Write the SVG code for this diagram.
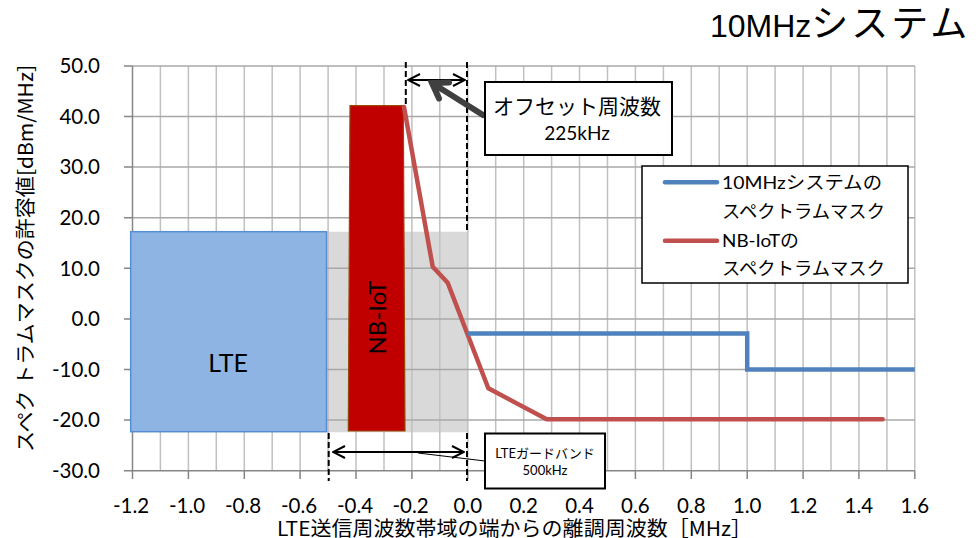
<svg xmlns="http://www.w3.org/2000/svg" width="979" height="538" viewBox="0 0 979 538">
<style>
.lat{font-family:Lato,"Noto Sans CJK JP",sans-serif;fill:#000}
.jp{font-family:"Noto Sans CJK JP",sans-serif;fill:#000}
.gv{stroke:#c0c0c0;stroke-width:1.5}
.gh{stroke:#a8a8a8;stroke-width:1.5}
.ax{stroke:#868686;stroke-width:1.5;fill:none}
.dash{stroke:#000;stroke-width:2;stroke-dasharray:6 3;fill:none}
.dbl{stroke:#000;stroke-width:2;fill:none;marker-start:url(#v);marker-end:url(#v)}
.box{fill:#fff;stroke:#000;stroke-width:2}
.yt{font-size:20.5px;text-anchor:end}
.xt{font-size:20.5px;text-anchor:middle}
</style>
<defs>
<marker id="v" viewBox="0 0 14 14" refX="13" refY="7" markerWidth="14" markerHeight="14" markerUnits="userSpaceOnUse" orient="auto-start-reverse">
<path d="M1,1 L13,7 L1,13" fill="none" stroke="#000" stroke-width="2"/>
</marker>
</defs>
<rect width="979" height="538" fill="#fff"/>

<g id="guard-band-area">
<rect x="327" y="231.7" width="140.8" height="200.6" fill="#d9d9d9"/>
</g>

<g id="grid">
<g class="gv">
<line x1="160.4" y1="65.9" x2="160.4" y2="470.7"/>
<line x1="188.4" y1="65.9" x2="188.4" y2="470.7"/>
<line x1="216.3" y1="65.9" x2="216.3" y2="470.7"/>
<line x1="244.3" y1="65.9" x2="244.3" y2="470.7"/>
<line x1="272.2" y1="65.9" x2="272.2" y2="470.7"/>
<line x1="300.1" y1="65.9" x2="300.1" y2="470.7"/>
<line x1="328.1" y1="65.9" x2="328.1" y2="470.7"/>
<line x1="356.0" y1="65.9" x2="356.0" y2="470.7"/>
<line x1="384.0" y1="65.9" x2="384.0" y2="470.7"/>
<line x1="411.9" y1="65.9" x2="411.9" y2="470.7"/>
<line x1="439.8" y1="65.9" x2="439.8" y2="470.7"/>
<line x1="467.8" y1="65.9" x2="467.8" y2="470.7"/>
<line x1="495.7" y1="65.9" x2="495.7" y2="470.7"/>
<line x1="523.7" y1="65.9" x2="523.7" y2="470.7"/>
<line x1="551.6" y1="65.9" x2="551.6" y2="470.7"/>
<line x1="579.5" y1="65.9" x2="579.5" y2="470.7"/>
<line x1="607.5" y1="65.9" x2="607.5" y2="470.7"/>
<line x1="635.4" y1="65.9" x2="635.4" y2="470.7"/>
<line x1="663.4" y1="65.9" x2="663.4" y2="470.7"/>
<line x1="691.3" y1="65.9" x2="691.3" y2="470.7"/>
<line x1="719.2" y1="65.9" x2="719.2" y2="470.7"/>
<line x1="747.2" y1="65.9" x2="747.2" y2="470.7"/>
<line x1="775.1" y1="65.9" x2="775.1" y2="470.7"/>
<line x1="803.1" y1="65.9" x2="803.1" y2="470.7"/>
<line x1="831.0" y1="65.9" x2="831.0" y2="470.7"/>
<line x1="858.9" y1="65.9" x2="858.9" y2="470.7"/>
<line x1="886.9" y1="65.9" x2="886.9" y2="470.7"/>
<line x1="914.8" y1="65.9" x2="914.8" y2="470.7"/>
</g>
<g class="gh">
<line x1="132.5" y1="65.9" x2="914.8" y2="65.9"/>
<line x1="132.5" y1="116.5" x2="914.8" y2="116.5"/>
<line x1="132.5" y1="167.1" x2="914.8" y2="167.1"/>
<line x1="132.5" y1="217.7" x2="914.8" y2="217.7"/>
<line x1="132.5" y1="268.3" x2="914.8" y2="268.3"/>
<line x1="132.5" y1="318.9" x2="914.8" y2="318.9"/>
<line x1="132.5" y1="369.5" x2="914.8" y2="369.5"/>
<line x1="132.5" y1="420.1" x2="914.8" y2="420.1"/>
</g>
<path class="ax" d="M132.5,65.9 V470.7 H914.8"/>
<path class="ax" d="M124,65.9 H132.5 M124,116.5 H132.5 M124,167.1 H132.5 M124,217.7 H132.5 M124,268.3 H132.5 M124,318.9 H132.5 M124,369.5 H132.5 M124,420.1 H132.5 M124,470.7 H132.5"/>
<path class="ax" d="M132.5,470.7 V479 M188.4,470.7 V479 M244.3,470.7 V479 M300.1,470.7 V479 M356,470.7 V479 M411.9,470.7 V479 M467.8,470.7 V479 M523.7,470.7 V479 M579.5,470.7 V479 M635.4,470.7 V479 M691.3,470.7 V479 M747.2,470.7 V479 M803.1,470.7 V479 M858.9,470.7 V479 M914.8,470.7 V479"/>
</g>

<g id="y-ticks" class="lat yt">
<text x="100" y="73.2">50.0</text>
<text x="100" y="123.8">40.0</text>
<text x="100" y="174.4">30.0</text>
<text x="100" y="225">20.0</text>
<text x="100" y="275.6">10.0</text>
<text x="100" y="326.2">0.0</text>
<text x="100" y="376.8">-10.0</text>
<text x="100" y="427.4">-20.0</text>
<text x="100" y="478">-30.0</text>
</g>
<g id="x-ticks" class="lat xt">
<text x="131" y="513">-1.2</text>
<text x="187" y="513">-1.0</text>
<text x="243" y="513">-0.8</text>
<text x="299" y="513">-0.6</text>
<text x="355" y="513">-0.4</text>
<text x="410.5" y="513">-0.2</text>
<text x="467.8" y="513">0.0</text>
<text x="523.7" y="513">0.2</text>
<text x="579.5" y="513">0.4</text>
<text x="635.4" y="513">0.6</text>
<text x="691.3" y="513">0.8</text>
<text x="747.2" y="513">1.0</text>
<text x="803.1" y="513">1.2</text>
<text x="858.9" y="513">1.4</text>
<text x="914.8" y="513">1.6</text>
</g>
<text id="x-axis-title" class="jp" x="277" y="536" font-size="20.5" textLength="475" lengthAdjust="spacingAndGlyphs">LTE送信周波数帯域の端からの離調周波数［MHz］</text>
<text id="y-axis-title" class="jp" transform="rotate(-90)" x="-258.5" y="33" font-size="20" text-anchor="middle" textLength="387" lengthAdjust="spacingAndGlyphs">スペク トラムマスクの許容値[dBm/MHz]</text>

<g id="lte">
<rect x="130.7" y="231.7" width="195.8" height="200" fill="#8eb4e3" stroke="#558ed5" stroke-width="1.5"/>
<text class="lat" x="228" y="372" font-size="25" text-anchor="middle">LTE</text>
</g>

<g id="nb-iot">
<polygon points="350,105.7 403.3,105.7 405,431 348.3,431" fill="#c00000" stroke="#984807" stroke-width="1.2"/>
<text class="lat" transform="rotate(-90)" x="-317.5" y="386" font-size="24" text-anchor="middle">NB-IoT</text>
</g>

<g id="series">
<polyline points="404,107 432.7,266.7 447.7,282.7 488.3,388.3 546.7,419.3 882.7,419.3" fill="none" stroke="#c0504d" stroke-width="4.5" stroke-linejoin="round" stroke-linecap="round"/>
<polyline points="467.8,333.6 747.2,333.6 747.2,369.5 914.8,369.5" fill="none" stroke="#4f81bd" stroke-width="4.5"/>
</g>

<g id="connectors">
<line class="dash" x1="405.8" y1="62" x2="405.8" y2="106"/>
<line class="dash" x1="467" y1="62" x2="467" y2="232"/>
<line class="dash" x1="467" y1="433" x2="467" y2="481"/>
<line class="dash" x1="328.7" y1="433" x2="328.7" y2="481"/>
<line class="dbl" x1="408" y1="80" x2="465" y2="80"/>
<line class="dbl" x1="333" y1="452" x2="464" y2="452"/>
<line x1="485" y1="461" x2="418" y2="453" stroke="#000" stroke-width="1.2"/>
<path d="M483,115 L432,83 M449,82.5 L432,83 L439,98.5" fill="none" stroke="#404040" stroke-width="6" stroke-linecap="round" stroke-linejoin="miter"/>
</g>

<g id="offset-label">
<rect class="box" x="485" y="82" width="187" height="73"/>
<text class="jp" x="577" y="114" font-size="21" text-anchor="middle">オフセット周波数</text>
<text class="lat" x="577" y="140" font-size="19" text-anchor="middle">225kHz</text>
</g>

<g id="guard-band-label">
<rect class="box" x="485" y="433.5" width="120" height="55"/>
<text class="lat" x="545" y="458" font-size="13" text-anchor="middle">LTEガードバンド</text>
<text class="lat" x="545" y="475" font-size="13" text-anchor="middle">500kHz</text>
</g>

<g id="legend">
<rect x="642" y="166" width="266" height="117" fill="#fff" stroke="#000" stroke-width="1.5"/>
<line x1="665" y1="182.3" x2="717" y2="182.3" stroke="#4f81bd" stroke-width="4.5" stroke-linecap="round"/>
<line x1="665" y1="240.7" x2="717" y2="240.7" stroke="#c0504d" stroke-width="4.5" stroke-linecap="round"/>
<text class="lat" x="722" y="189" font-size="18" textLength="160" lengthAdjust="spacingAndGlyphs">10MHzシステムの</text>
<text class="jp" x="722" y="218" font-size="18" textLength="163" lengthAdjust="spacingAndGlyphs">スペクトラムマスク</text>
<text class="lat" x="722" y="247" font-size="18" textLength="77" lengthAdjust="spacingAndGlyphs">NB-IoTの</text>
<text class="jp" x="722" y="275" font-size="18" textLength="163" lengthAdjust="spacingAndGlyphs">スペクトラムマスク</text>
</g>

<g id="title">
<text x="710" y="37"><tspan font-family="'Liberation Sans',Arial,sans-serif" font-size="32">10MHz</tspan><tspan font-family="'Noto Sans CJK JP',sans-serif" font-size="37" letter-spacing="3">システム</tspan></text>
</g>
</svg>
